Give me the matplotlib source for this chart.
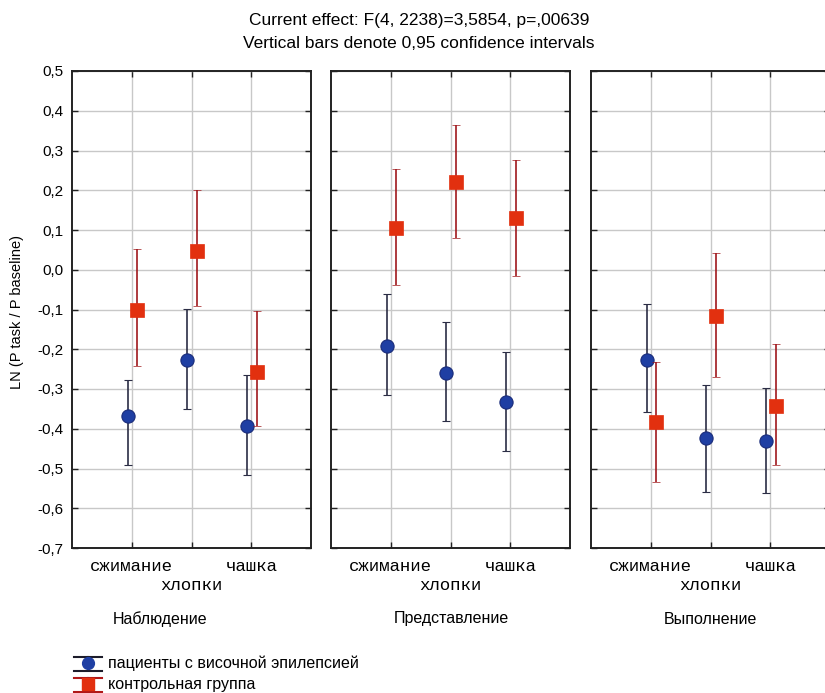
import numpy as np
import matplotlib.pyplot as plt

# data
conditions = ['Наблюдение', 'Представление', 'Выполнение']
actions = ['сжимание', 'хлопки', 'чашка']
groups = ['пациенты с височной эпилепсией', 'контрольная группа']
ytick_vals = [-0.7, -0.6, -0.5, -0.4, -0.3, -0.2, -0.1, 0.0, 0.1, 0.2, 0.3, 0.4, 0.5]
ytick_labels = ['-0,7', '-0,6', '-0,5', '-0,4', '-0,3', '-0,2', '-0,1',
                '0,0', '0,1', '0,2', '0,3', '0,4', '0,5']

# rows: conditions, columns: actions
pat_mean = np.array([[-0.367, -0.227, -0.392],
                     [-0.193, -0.260, -0.333],
                     [-0.227, -0.424, -0.430]])
pat_low = np.array([[-0.490, -0.350, -0.517],
                    [-0.316, -0.380, -0.456],
                    [-0.357, -0.558, -0.562]])
pat_high = np.array([[-0.277, -0.098, -0.266],
                     [-0.062, -0.131, -0.208],
                     [-0.087, -0.290, -0.297]])

ctl_mean = np.array([[-0.100, 0.047, -0.256],
                     [0.106, 0.221, 0.131],
                     [-0.384, -0.117, -0.343]])
ctl_low = np.array([[-0.241, -0.092, -0.393],
                    [-0.038, 0.079, -0.015],
                    [-0.534, -0.269, -0.492]])
ctl_high = np.array([[0.052, 0.200, -0.103],
                     [0.253, 0.365, 0.276],
                     [-0.231, 0.041, -0.186]])

W, H = 825, 693
fig = plt.figure(figsize=(W / 100, H / 100), dpi=100)

sans = ['Liberation Sans', 'DejaVu Sans']
mono = ['Liberation Mono', 'DejaVu Sans Mono']

blue = '#1f3fa3'
blue_edge = '#1a2c7a'
blue_bar = '#2b2d45'
red = '#e2300f'
red_bar = '#a0181c'

lefts = [72, 331, 591]
ax_w, top, bot = 239, 71, 548
x = np.arange(1, 4)

axes = []
for i, left in enumerate(lefts):
    ax = fig.add_axes([left / W, 1 - bot / H, ax_w / W, (bot - top) / H])
    axes.append(ax)
    ax.errorbar(x - 0.07, pat_mean[i],
                yerr=[pat_mean[i] - pat_low[i], pat_high[i] - pat_mean[i]],
                fmt='o', ms=9.5, mfc=blue, mec=blue_edge, mew=0.8,
                ecolor=blue_bar, elinewidth=1.2, capsize=2.6, capthick=1.2, zorder=3)
    ax.errorbar(x + 0.09, ctl_mean[i],
                yerr=[ctl_mean[i] - ctl_low[i], ctl_high[i] - ctl_mean[i]],
                fmt='s', ms=9.5, mfc=red, mec=red, mew=0.5,
                ecolor=red_bar, elinewidth=1.2, capsize=2.6, capthick=1.2, zorder=4)
    ax.set_xlim(0, 4)
    ax.set_ylim(-0.7, 0.5)
    ax.set_xticks(x)
    # middle category sits on a second row, as in the original
    ax.set_xticklabels([actions[0], '', actions[2]], family=mono, fontsize=12.5)
    ax.text(x[1], -37.5 / (bot - top), actions[1], transform=ax.get_xaxis_transform(),
            ha='center', va='center', family=mono, fontsize=12.5)
    ax.set_yticks(ytick_vals)
    if i == 0:
        ax.set_yticklabels(ytick_labels, family=sans, fontsize=11)
    else:
        ax.set_yticklabels([])
    ax.grid(True, color='#c8c8c8', lw=1)
    ax.set_axisbelow(True)
    ax.tick_params(direction='in', length=4, width=1, top=True, right=True, color='#222222')
    ax.tick_params(axis='y', pad=6)
    ax.tick_params(axis='x', pad=8)
    for s in ax.spines.values():
        s.set_color('#222222')
        s.set_linewidth(1.4)

# panel titles under each plot
label_x = [160, 451, 710]
for name, lx in zip(conditions, label_x):
    fig.text(lx / W, 1 - 619 / H, name, ha='center', va='center', family=sans, fontsize=11.5)

fig.text(419 / W, 1 - 20 / H, 'Current effect: F(4, 2238)=3,5854, p=,00639',
         ha='center', va='center', family=sans, fontsize=12.5)
fig.text(419 / W, 1 - 43 / H, 'Vertical bars denote 0,95 confidence intervals',
         ha='center', va='center', family=sans, fontsize=12.5)
fig.text(17 / W, 1 - 312 / H, 'LN (P task / P baseline)', rotation=90,
         ha='center', va='center', family=sans, fontsize=10.5)

# legend drawn by hand in pixel space
lg = fig.add_axes([0, 0, 1, 1], zorder=5)
lg.set_xlim(0, W)
lg.set_ylim(H, 0)
lg.axis('off')
lg.patch.set_alpha(0)
for (cy, mk, fc, bc), txt in zip([(663, 'o', blue, '#1c1c2a'), (684, 's', red, '#b01818')], groups):
    lg.plot([88, 88], [cy - 6, cy + 7], color=bc, lw=1.5)
    lg.plot([74, 102], [cy - 6, cy - 6], color=bc, lw=1.5)
    lg.plot([74, 102], [cy + 8, cy + 8], color=bc, lw=1.5)
    lg.plot([88], [cy], marker=mk, ms=8.5, mfc=fc, mec=fc)
    lg.text(108, cy, txt, ha='left', va='center', family=sans, fontsize=11.5)

fig.savefig('out.png', dpi=100)
